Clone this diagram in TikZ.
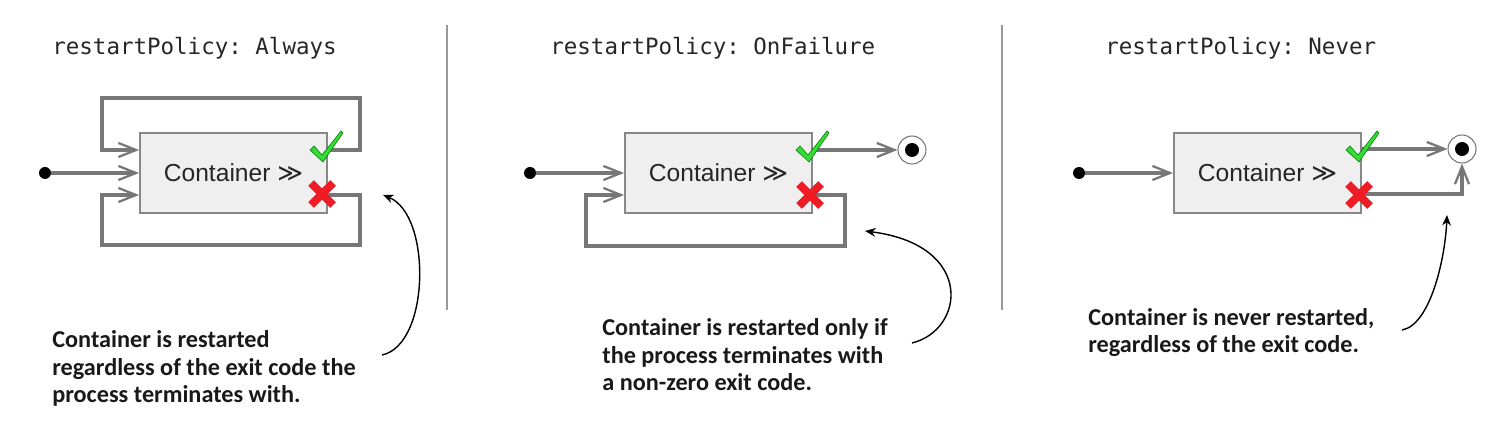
\documentclass[tikz,border=0pt]{standalone}
\usepackage{fontspec}
\setmainfont{Carlito}
\setmonofont{DejaVu Sans Mono}
\newfontfamily\boxfont{Liberation Sans}
\newfontfamily\symfont{DejaVu Sans}
\usetikzlibrary{arrows.meta}
\definecolor{linegray}{HTML}{777777}
\definecolor{boxfill}{HTML}{EFEFEF}
\definecolor{boxline}{HTML}{888888}
\definecolor{okgreen}{HTML}{33DD33}
\definecolor{failred}{HTML}{EE1C24}
\tikzset{
  policy/.style={anchor=west, inner sep=0pt, font=\ttfamily\fontsize{12.8}{15}\selectfont, text=black!85},
  state/.style={draw=boxline, fill=boxfill, line width=1.1pt, minimum width=3.74cm, minimum height=1.6cm, font=\boxfont\fontsize{14}{16}\selectfont, text=black!85},
  start/.style={circle, fill=black, minimum size=0.24cm, inner sep=0pt},
  finish/.style={circle, draw=linegray, line width=0.6pt, fill=white, minimum size=0.56cm, inner sep=0pt,
    path picture={\fill[black] (path picture bounding box.center) circle (0.14cm);}},
  flow/.style={draw=linegray, line width=1.9pt, -{Straight Barb[length=10pt,width=8pt,line width=1.3pt]}},
  pointer/.style={draw=black, line width=0.8pt, -{Stealth[length=6pt,width=5pt]}},
  note/.style={anchor=base west, align=left, inner sep=0pt, font=\bfseries\fontsize{13.8}{15.9}\selectfont, text=black!90},
  divider/.style={draw=black!40, line width=0.7pt},
  okmark/.pic={\filldraw[fill=okgreen, draw=green!45!black, line width=0.3pt]
    (-12,-10) -- (-8,-14) -- (0,-5) -- (19,-29) -- (21,-27) -- (1,2) -- cycle;},
  failmark/.pic={\draw[failred, line width=4.6pt] (-11,-11) -- (11,11) (-11,11) -- (11,-11);}
}
\begin{document}
\begin{tikzpicture}[x=0.02cm, y=-0.02cm]
\useasboundingbox (0,0) rectangle (1506,448);

\draw[divider] (447,25) -- (447,310);
\draw[divider] (1002,25) -- (1002,310);

\node[policy] (p1) at (52,48) {restartPolicy: Always};
\node[policy] (p2) at (550,48) {restartPolicy: OnFailure};
\node[policy] (p3) at (1105,48) {restartPolicy: Never};

\node[state] (c1) at (233.5,173) {Container {\symfont ≫}};
\node[state] (c2) at (718.5,173) {Container {\symfont ≫}};
\node[state] (c3) at (1267.5,173) {Container {\symfont ≫}};

\node[start] (s1) at (45,173) {};
\node[start] (s2) at (530,173) {};
\node[start] (s3) at (1079,173) {};
\node[finish] (e2) at (912,150) {};
\node[finish] (e3) at (1462,149) {};

\coordinate (k1) at (327,150);
\coordinate (x1) at (327,195);
\coordinate (k2) at (813,150);
\coordinate (x2) at (813,195);
\coordinate (k3) at (1362,149);
\coordinate (x3) at (1362,194);

\draw[flow] (s1) -- (c1);
\draw[flow] (k1) -- (360,150) |- (102,98) |- (c1.west |- k1);
\draw[flow] (x1) -- (360,195) |- (102,245) |- (c1.west |- x1);

\draw[flow] (s2) -- (c2);
\draw[flow] (k2) -- (e2);
\draw[flow] (x2) -- (845,195) |- (586,246) |- (c2.west |- x2);

\draw[flow] (s3) -- (c3);
\draw[flow] (k3) -- (e3);
\draw[flow] (x3) -| (e3);

\pic at (322,160) {okmark};
\pic at (322,194) {failmark};
\pic at (808,160) {okmark};
\pic at (810,195) {failmark};
\pic at (1358,160) {okmark};
\pic at (1359,195) {failmark};

\node[note] (n1) at (52,403) {Container is restarted\\regardless of the exit code the\\process terminates with.};
\node[note] (n2) at (602,391) {Container is restarted only if\\the process terminates with\\a non-zero exit code.};
\node[note] (n3) at (1088,353) {Container is never restarted,\\regardless of the exit code.};

\coordinate (a1) at (382,355);
\coordinate (t1) at (383,195);
\coordinate (a2) at (912,343);
\coordinate (t2) at (865,231);
\coordinate (a3) at (1402,330);
\coordinate (t3) at (1447,215);
\draw[pointer] (a1) .. controls (430,345) and (432,215) .. (t1);
\draw[pointer] (a2) .. controls (965,330) and (975,245) .. (t2);
\draw[pointer] (a3) .. controls (1430,325) and (1445,260) .. (t3);
\end{tikzpicture}
\end{document}
